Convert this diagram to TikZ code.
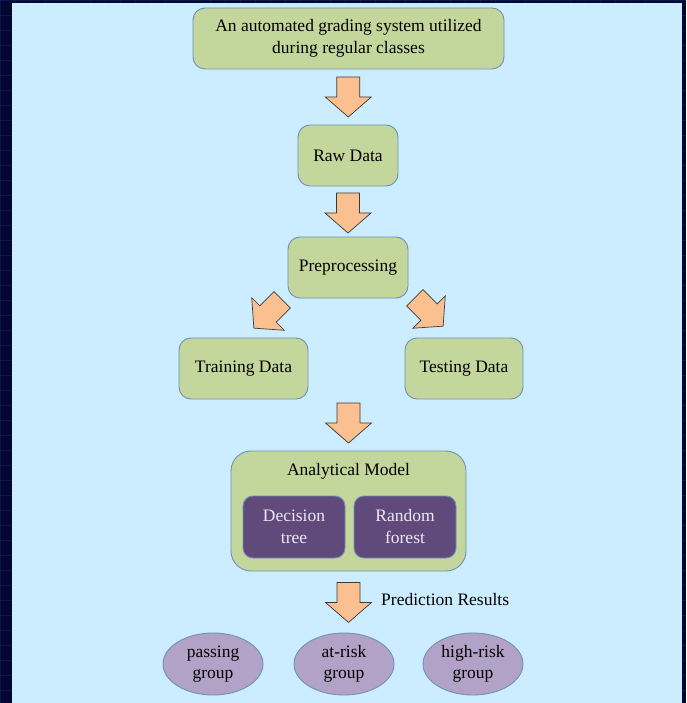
\documentclass[tikz,border=0pt]{standalone}
\usepackage{fontspec}
\setmainfont{Liberation Serif}
\usetikzlibrary{shapes.geometric,calc}
\definecolor{navy}{HTML}{03062F}
\definecolor{gridc}{HTML}{0E2163}
\definecolor{panel}{HTML}{CCECFF}
\definecolor{boxfill}{HTML}{C3D69B}
\definecolor{boxline}{HTML}{6F90B8}
\definecolor{arrfill}{HTML}{FAC090}
\definecolor{arrline}{HTML}{3A3A3A}
\definecolor{purp}{HTML}{604A7B}
\definecolor{purptext}{HTML}{EEE8F4}
\definecolor{ellfill}{HTML}{B3A2C7}
\tikzset{
  greenbox/.style={draw=boxline, line width=0.9pt, fill=boxfill, rounded corners=12pt,
    align=center, inner sep=0pt, font=\fontsize{17.5}{22}\selectfont},
  purpbox/.style={draw=boxline, line width=0.9pt, fill=purp, rounded corners=10pt,
    align=center, inner sep=0pt, text=purptext, font=\fontsize{17.5}{22}\selectfont,
    minimum width=102pt, minimum height=62pt},
  groupell/.style={ellipse, draw=boxline, line width=0.9pt, fill=ellfill, align=center,
    inner sep=0pt, minimum width=100pt, minimum height=62pt, font=\fontsize{17.5}{21}\selectfont},
  plain/.style={inner sep=0pt, font=\fontsize{17.5}{21}\selectfont},
  barrow/.pic={
    \draw[fill=arrfill, draw=arrline, line width=0.7pt, line join=miter]
      (-11.5,-20) -- (11.5,-20) -- (11.5,0) -- (23,0) -- (0,20) -- (-23,0) -- (-11.5,0) -- cycle;
  }
}
\begin{document}
\begin{tikzpicture}[x=1pt,y=-1pt]
\useasboundingbox (0,0) rectangle (686,703);
% dark textured background
\fill[navy] (0,0) rectangle (686,703);
\foreach \k in {0,15,...,705} {
  \draw[gridc, line width=0.6pt, opacity=0.6] (0,\k) -- (686,\k);
}
\foreach \k in {0,15,...,690} {
  \draw[gridc, line width=0.6pt, opacity=0.6] (\k,0) -- (\k,703);
}
% light panel
\fill[panel] (12,3) rectangle (682,703);

% nodes
\node[greenbox, minimum width=311pt, minimum height=61pt] (top) at (348.5,38.5)
  {An automated grading system utilized\\during regular classes};
\node[greenbox, minimum width=100pt, minimum height=61pt] (raw) at (348,155.5) {Raw Data};
\node[greenbox, minimum width=120pt, minimum height=61pt] (prep) at (348,267.5) {Preprocessing};
\node[greenbox, minimum width=129pt, minimum height=61pt] (train) at (243.5,368.5) {Training Data};
\node[greenbox, minimum width=118pt, minimum height=61pt] (test) at (464,368.5) {Testing Data};
\node[greenbox, rounded corners=20pt, minimum width=235pt, minimum height=120pt] (model) at (348.5,511) {};
\node[plain] (modeltitle) at (348.5,471) {Analytical Model};
\node[purpbox] (dt) at (294,527) {Decision\\tree};
\node[purpbox] (rf) at (405,527) {Random\\forest};
\node[groupell] (pass) at (213,664) {passing\\group};
\node[groupell] (atrisk) at (344,664) {at-risk\\group};
\node[groupell] (highrisk) at (473,664) {high-risk\\group};

% block arrows between nodes
\pic at ($(top.south)!0.5!(raw.north)$) {barrow};
\pic at ($(raw.south)!0.5!(prep.north)+(0,1.5)$) {barrow};
\pic[rotate=-45] at (268,314) {barrow};
\pic[rotate=45] at (429,312) {barrow};
\pic at (348.5,423) {barrow};
\coordinate (predarrow) at ($(model.south)+(0,31)$);
\pic at (predarrow) {barrow};
\node[plain, anchor=west] (predlabel) at (381,600) {Prediction Results};
\end{tikzpicture}
\end{document}
